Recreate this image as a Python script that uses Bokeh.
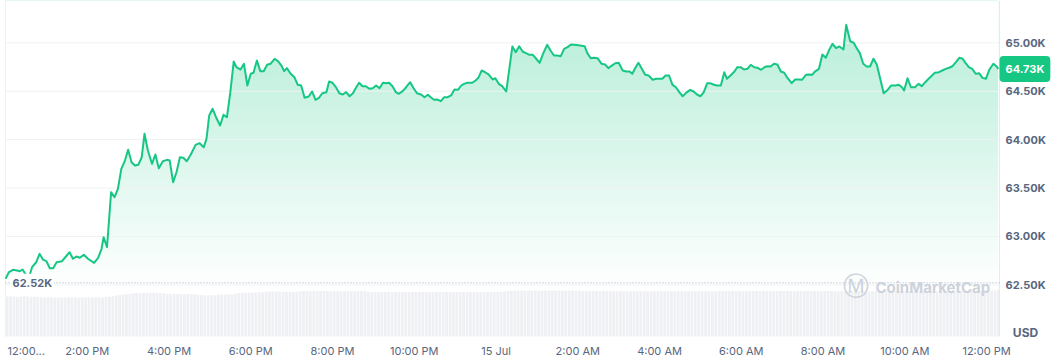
import numpy as np
from bokeh.plotting import figure
from bokeh.models import Range1d, Label
from bokeh.core.properties import value
from bokeh.embed import file_html
from bokeh.resources import INLINE

# minutes since 14 Jul, 12:00 PM
times = [0, 5, 11, 17, 21, 25, 28, 34, 39, 45, 50, 55, 60, 65, 70, 75, 83, 89, 94, 99,
         104, 109, 115, 121, 130, 136, 141, 144, 149, 155, 160, 165, 170, 175, 180, 185, 190, 195, 200, 204,
         209, 215, 220, 225, 231, 237, 241, 246, 251, 256, 261, 266, 272, 279, 285,
         291, 295, 299, 304, 309, 315, 320, 325, 330, 335, 339, 345, 350, 355, 360, 364, 369, 374, 379, 384,
         389, 395, 400, 405, 409, 413, 418, 424, 429, 434, 439, 445, 450, 455, 460, 465, 471, 475, 480, 485,
         490, 495, 500, 505, 510, 514, 519, 524, 529, 534, 539, 544, 549, 554, 559, 563, 568, 573,
         577, 583, 588, 594, 599, 604, 610, 615, 620, 625, 629, 634, 639, 644, 649, 654, 659, 664, 669, 673,
         678, 685, 690, 694, 699, 704, 709, 715, 719, 724, 729, 735, 744, 749, 754, 759, 764, 769, 774, 779,
         784, 789, 795, 800, 805, 810, 815, 820, 825, 830, 835, 841, 850, 854, 859, 864, 869,
         875, 880, 885, 890, 895, 900, 906, 911, 916, 920, 925, 929, 934, 939, 944, 950, 955, 960, 964, 969,
         974, 979, 984, 989, 994, 999, 1005, 1010, 1015, 1020, 1025, 1030, 1034, 1039, 1044, 1050, 1055, 1059, 1064, 1070,
         1074, 1079, 1084, 1089, 1094, 1099, 1104, 1109, 1114, 1118, 1123, 1128, 1133, 1138, 1143, 1148, 1154, 1159, 1165,
         1169, 1175, 1180, 1184, 1188, 1194, 1199, 1204, 1209, 1214, 1219, 1224, 1230, 1234, 1240, 1245, 1249, 1254, 1259, 1264,
         1269, 1274, 1279, 1289, 1294, 1300, 1306, 1311, 1316, 1319, 1324, 1329, 1335, 1340, 1345, 1350, 1355, 1360, 1364, 1370,
         1375, 1380, 1385, 1390, 1395, 1400, 1405, 1409, 1414, 1419, 1424, 1429, 1434, 1439, 1444, 1450, 1455, 1457]

prices = [62562, 62630, 62655, 62648, 62640, 62658, 62624, 62568, 62682, 62733, 62820, 62761, 62744, 62671, 62671, 62733, 62744, 62795, 62837, 62769,
          62792, 62779, 62810, 62769, 62727, 62779, 62872, 62992, 62888, 63457, 63405, 63492, 63698, 63777, 63895, 63766, 63732, 63740, 63818, 64060,
          63887, 63750, 63846, 63704, 63777, 63791, 63784, 63560, 63663, 63818, 63812, 63777, 63846, 63946, 63963,
          63921, 64008, 64249, 64318, 64231, 64146, 64256, 64231, 64490, 64807, 64748, 64724, 64783, 64559, 64680, 64690, 64817, 64707, 64707, 64773,
          64783, 64835, 64810, 64765, 64707, 64738, 64686, 64645, 64566, 64559, 64432, 64445, 64497, 64411, 64432, 64479, 64490, 64600, 64587, 64541,
          64479, 64466, 64490, 64448, 64479, 64531, 64587, 64552, 64552, 64525, 64531, 64559, 64531, 64587, 64583, 64587, 64552, 64490,
          64473, 64500, 64541, 64593, 64531, 64479, 64466, 64438, 64463, 64432, 64411, 64414, 64397, 64438, 64438, 64456, 64518, 64514, 64559, 64576,
          64587, 64587, 64611, 64638, 64714, 64696, 64673, 64621, 64634, 64576, 64552, 64497, 64962, 64903, 64965, 64910, 64893, 64876, 64876, 64835,
          64793, 64886, 64979, 64920, 64869, 64869, 64862, 64938, 64955, 64982, 64979, 64975, 64965, 64893, 64841, 64845, 64841,
          64783, 64776, 64738, 64765, 64789, 64793, 64714, 64703, 64703, 64680, 64748, 64793, 64731, 64669, 64662, 64618, 64628, 64628, 64628, 64662,
          64662, 64566, 64541, 64490, 64448, 64483, 64514, 64497, 64466, 64448, 64490, 64583, 64583, 64569, 64559, 64559, 64696, 64628, 64662, 64703,
          64748, 64748, 64724, 64731, 64773, 64748, 64742, 64721, 64748, 64758, 64755, 64783, 64776, 64703, 64690, 64634, 64583, 64621, 64621,
          64618, 64669, 64673, 64669, 64703, 64731, 64879, 64845, 64928, 64990, 64944, 64962, 64931, 65186, 65013, 65000, 64948, 64893, 64783, 64755,
          64755, 64835, 64773, 64479, 64507, 64559, 64559, 64566, 64541, 64507, 64634, 64541, 64541, 64576, 64552, 64593, 64628, 64662, 64690, 64696,
          64714, 64731, 64742, 64758, 64800, 64845, 64835, 64793, 64748, 64731, 64680, 64686, 64638, 64628, 64721, 64783, 64755, 64730]

# 5-minute volume bars (USD billions)
volumes = [28.0, 28.1, 28.0, 27.9, 28.0, 28.1, 28.0, 27.8, 27.9, 27.9,
           27.4, 27.3, 27.5, 27.3, 27.2, 27.4, 27.3, 27.3, 27.5, 27.4, 27.3, 27.2, 27.4, 27.3, 27.4, 27.3, 27.5, 27.4, 27.3, 27.6,
           27.9, 28.3, 28.7, 29.1, 29.4, 29.5, 29.8,
           30.3, 30.5, 30.4, 30.6, 30.5, 30.4, 30.6, 30.5, 30.3, 30.2,
           29.8, 29.7, 29.9, 29.7, 29.6, 29.8, 29.7, 29.6, 29.5, 29.3,
           29.0, 28.9, 28.8, 28.9, 29.0,
           29.3, 29.4, 29.5, 29.4, 29.6, 29.9,
           30.5, 30.6, 30.7, 30.8, 30.7, 30.8, 30.9, 31.1,
           31.4, 31.5, 31.6, 31.5, 31.4, 31.5, 31.3, 31.2, 31.3, 31.4, 31.6,
           31.8, 31.9, 31.8, 31.9, 32.0, 31.8, 31.9, 31.8, 31.7, 31.8, 31.9, 31.8, 31.7, 31.8, 31.9, 31.8, 31.8, 31.9, 32.2,
           31.3, 31.2, 31.1, 31.2, 31.3, 31.2, 31.1, 31.2, 31.2, 31.3, 31.1, 31.2, 31.2, 31.1, 31.3, 31.2, 31.2, 31.1, 31.2, 31.3,
           31.2, 31.2, 31.1, 31.2, 31.3, 31.2, 31.1, 31.2, 31.2, 31.3, 31.2, 31.1, 31.2, 31.2, 31.3, 31.2, 31.2, 31.1, 31.2, 31.4,
           31.6, 31.9,
           32.4, 32.6, 32.7, 32.6, 32.8, 32.7, 32.6, 32.7, 32.8, 32.7, 32.9, 32.8, 32.7, 32.6, 32.7, 32.8, 32.7, 32.8, 32.7, 32.6, 32.4,
           32.0, 31.9, 31.8, 31.9, 31.8, 31.7, 31.8, 31.9, 31.8, 31.8, 31.7, 31.8, 31.9, 31.8, 31.7, 31.8, 31.8, 31.9, 31.8, 31.7,
           31.8, 31.9, 31.8, 31.8, 31.7, 31.8, 31.9, 31.8, 31.7, 31.8, 31.8, 31.9, 31.8, 31.7, 31.8,
           31.7, 31.8, 31.7, 31.6, 31.7, 32.0, 32.1, 32.0, 32.1, 32.0, 31.9, 31.8, 31.7, 31.8, 31.9, 32.0, 31.9, 32.0, 32.1, 32.0,
           31.9, 32.0, 31.9, 31.8, 31.9, 32.0, 31.9, 31.8, 31.9, 32.0, 32.1, 32.0, 31.9, 32.0, 31.9, 31.8, 31.9, 32.0, 31.9, 31.8,
           31.7, 31.8, 31.7, 31.6, 31.7, 31.6, 31.7, 31.8, 31.7, 31.6, 31.7, 31.8, 31.7,
           31.8, 31.9, 31.8, 31.9, 32.0, 31.9, 31.8, 31.9, 31.8, 31.9, 32.0, 31.9, 31.8, 31.9, 31.8, 31.9, 31.8, 31.9, 32.0, 31.9,
           31.8, 31.9, 31.8, 31.9, 31.8, 31.9, 32.0, 31.9, 31.8, 31.9, 31.8, 31.9,
           33.2, 33.3, 33.1]

price_ticks = [62500, 63000, 63500, 64000, 64500, 65000]
price_tick_labels = ["62.50K", "63.00K", "63.50K", "64.00K", "64.50K", "65.00K"]
x_ticks = [120, 240, 360, 480, 600, 720, 840, 960, 1080, 1200, 1320, 1440]
x_tick_labels = ["2:00 PM", "4:00 PM", "6:00 PM", "8:00 PM", "10:00 PM", "15 Jul",
                 "2:00 AM", "4:00 AM", "6:00 AM", "8:00 AM", "10:00 AM", "12:00 PM"]
first_tick_label = "12:00..."
low_price = 62520
last_price = 64730
currency = "USD"
watermark = "CoinMarketCap"

GREEN = "#16c784"
GRAY_TEXT = "#58667e"
GRID = "#eff2f5"
FONT = "Inter"

# ---- layout (the frame fills the whole canvas; plot area is a sub-region) ----
MIN_PER_PX = 1 / 0.6813      # minutes per screen pixel
PRICE_PER_PX = 10.331        # USD per screen pixel
VOL_PER_PX = 0.7             # volume units per screen pixel

plot_x0, plot_x1 = 0, 1459           # plot area in minutes
plot_y0, plot_y1 = 61966, 65437      # plot area in USD
x_range = Range1d(plot_x0 - 5 * MIN_PER_PX, plot_x1 + 52 * MIN_PER_PX)
y_range = Range1d(plot_y0 - 21 * PRICE_PER_PX, plot_y1)

p = figure(width=1051, height=357, x_range=x_range, y_range=y_range,
           output_backend="svg", toolbar_location=None,
           x_axis_location=None, y_axis_location=None,
           min_border=0, min_border_left=0, min_border_right=0,
           min_border_top=0, min_border_bottom=0,
           background_fill_color="white", border_fill_color="white")
p.outline_line_color = None
p.xgrid.visible = False
p.ygrid.visible = False

# volume bars
p.extra_y_ranges = {"vol": Range1d(-21 * VOL_PER_PX, 336 * VOL_PER_PX)}
vol_x = [5 * i + 2.5 for i in range(len(volumes))]
p.vbar(x=vol_x, top=volumes, bottom=0, width=4.0, y_range_name="vol",
       fill_color="#eef0f3", line_color=None)

# gradient area under the price line: opaque bands + white mask above the line
price_max = max(prices)
g_lo = 62441
n_bands = 120
edges = np.linspace(g_lo, plot_y1, n_bands + 1)
band_h = edges[1] - edges[0]
mids = (edges[:-1] + edges[1:]) / 2
alphas = np.clip(0.30 * (mids - g_lo) / (price_max - g_lo), 0, 0.30)
g = np.array([22, 199, 132])
cols = ["#%02x%02x%02x" % tuple(np.round(255 - a * (255 - g)).astype(int)) for a in alphas]
p.quad(left=times[0], right=times[-1], bottom=edges[:-1], top=edges[1:] + band_h * 0.4,
       fill_color=cols, line_color=None)
p.varea(x=times, y1=prices, y2=plot_y1, fill_color="white")

# grid lines and plot borders
p.segment(x0=plot_x0, x1=plot_x1, y0=price_ticks, y1=price_ticks, line_color=GRID, line_width=1)
p.segment(x0=[plot_x0], x1=[plot_x0], y0=plot_y0, y1=plot_y1, line_color=GRID, line_width=1)
p.segment(x0=[plot_x1], x1=[plot_x1], y0=plot_y0, y1=plot_y1, line_color="#e6e9ee", line_width=1)

# lowest price dotted line
p.segment(x0=[plot_x0], x1=[plot_x1], y0=low_price, y1=low_price,
          line_color="#a6b0c3", line_width=1, line_dash="1 2")

# price line
p.line(times, prices, line_color=GREEN, line_width=2, line_join="round")

# price tick labels (right)
p.text(x=plot_x1 + 6 * MIN_PER_PX, y=price_ticks, text=price_tick_labels,
       text_font=value(FONT), text_font_size="11px", text_font_style="bold",
       text_color=GRAY_TEXT, text_align="left", text_baseline="middle")

# time tick labels (bottom)
p.text(x=x_ticks, y=plot_y0 - 15 * PRICE_PER_PX, text=x_tick_labels,
       text_font=value(FONT), text_font_size="11px",
       text_color=GRAY_TEXT, text_align="center", text_baseline="middle")
p.text(x=[plot_x0 + 2 * MIN_PER_PX], y=plot_y0 - 15 * PRICE_PER_PX, text=[first_tick_label],
       text_font=value(FONT), text_font_size="11px",
       text_color=GRAY_TEXT, text_align="left", text_baseline="middle")

# currency
p.text(x=[plot_x1 + 26 * MIN_PER_PX], y=plot_y0 + 3.5 * PRICE_PER_PX, text=[currency],
       text_font=value(FONT), text_font_size="12px", text_font_style="bold",
       text_color=GRAY_TEXT, text_align="center", text_baseline="middle")

# lowest price label
p.add_layout(Label(x=plot_x0, y=low_price, x_offset=5, text=f"{low_price / 1000:.2f}K",
                   text_font=FONT, text_font_size="11px", text_font_style="bold",
                   text_color=GRAY_TEXT, text_align="left", text_baseline="middle",
                   background_fill_color="white", padding=2))

# last price badge
p.add_layout(Label(x=plot_x1, y=last_price, text=f"{last_price / 1000:.2f}K",
                   text_font=FONT, text_font_size="11px", text_font_style="bold",
                   text_color="white", text_align="left", text_baseline="middle",
                   background_fill_color=GREEN, border_radius=4, padding=6))

# watermark
p.text(x=[plot_x1 - 143.5 * MIN_PER_PX], y=plot_y0 + 50.5 * PRICE_PER_PX, text=["\u24C2"],
       text_font=value("DejaVu Sans"), text_font_size="26px",
       text_color="#cdd2db", text_align="center", text_baseline="middle")
p.text(x=[plot_x1 - 124 * MIN_PER_PX], y=plot_y0 + 49 * PRICE_PER_PX, text=[watermark],
       text_font=value(FONT), text_font_size="15px", text_font_style="bold",
       text_color="#cdd2db", text_align="left", text_baseline="middle")

open("out.html", "w").write(file_html(p, INLINE))
